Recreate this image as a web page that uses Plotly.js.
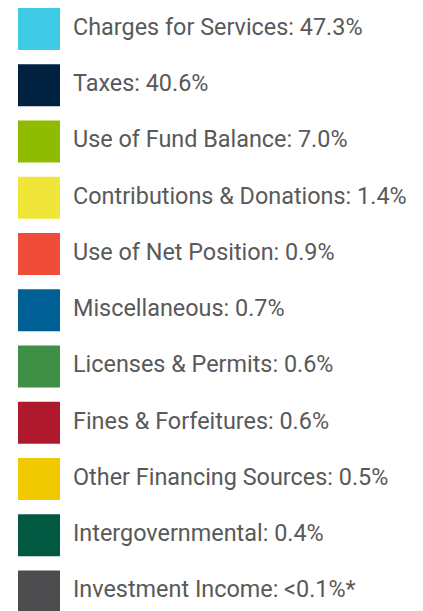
<!DOCTYPE html>
<html>
<head>
<meta charset="utf-8">
<script src="https://cdn.plot.ly/plotly-3.0.1.min.js"></script>
<style>html,body{margin:0;padding:0;background:#fff;}#chart{width:423px;height:611px;}</style>
</head>
<body>
<div id="chart"></div>
<script>
const categories = ["Charges for Services","Taxes","Use of Fund Balance","Contributions & Donations","Use of Net Position","Miscellaneous","Licenses & Permits","Fines & Forfeitures","Other Financing Sources","Intergovernmental","Investment Income"];
const valueLabels = ["47.3%","40.6%","7.0%","1.4%","0.9%","0.7%","0.6%","0.6%","0.5%","0.4%","<0.1%*"];
const colors = ["#3fcbe6","#00213f","#8fbc00","#f0e63a","#ef4d3a","#006096","#3f8f47","#b0182e","#f0c900","#025942","#4d4d4f"];

const idx = categories.map((_, i) => i);
const markerX = categories.map(() => 39);
const textX = categories.map(() => 73);

const traces = [
  {type:"scatter", mode:"markers", x:markerX, y:idx,
   marker:{symbol:"square", size:42, color:colors, line:{width:0}},
   hoverinfo:"skip", showlegend:false},
  {type:"scatter", mode:"text", x:textX, y:idx,
   text:categories.map((c,i)=>c+": "+valueLabels[i]),
   textposition:"middle right",
   textfont:{family:"Roboto, sans-serif", size:23.4, color:"#595959"},
   hoverinfo:"skip", showlegend:false}
];

const layout = {
  width:423, height:611,
  margin:{l:0,r:0,t:0,b:0},
  paper_bgcolor:"#ffffff", plot_bgcolor:"#ffffff",
  xaxis:{range:[0,423], visible:false, fixedrange:true},
  yaxis:{range:[10.345,-0.515], visible:false, fixedrange:true},
  showlegend:false
};
Plotly.newPlot("chart", traces, layout, {staticPlot:true, displayModeBar:false});
</script>
</body>
</html>
